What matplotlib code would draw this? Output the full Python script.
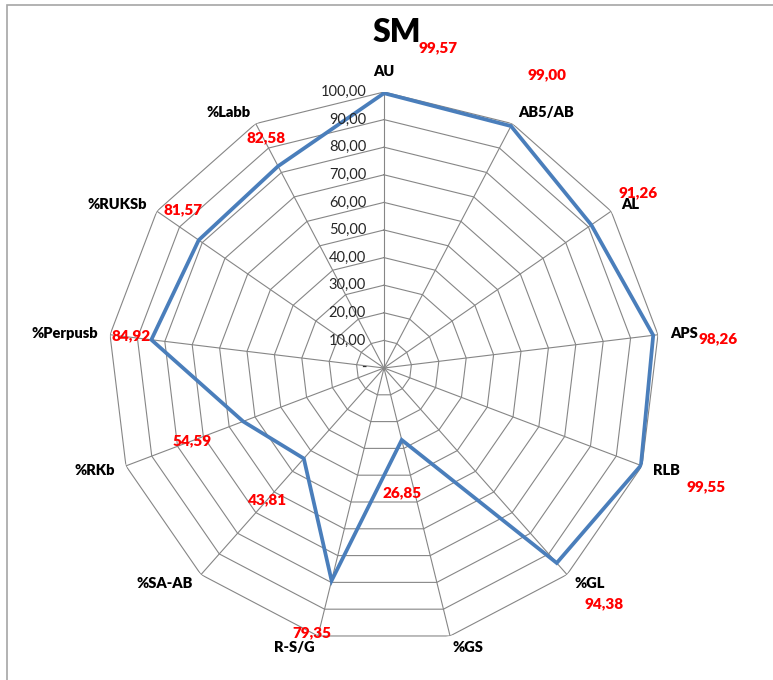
import numpy as np
import matplotlib
matplotlib.use("Agg")
import matplotlib.pyplot as plt
from matplotlib.patches import Rectangle

plt.rcParams['font.family'] = ['Lato', 'DejaVu Sans']

# Indicators and their scores
categories = ['AU', 'AB5/AB', 'AL', 'APS', 'RLB', '%GL', '%GS', 'R-S/G',
              '%SA-AB', '%RKb', '%Perpusb', '%RUKSb', '%Labb']
values = [99.57, 99.00, 91.26, 98.26, 99.55, 94.38, 26.85, 79.35,
          43.81, 54.59, 84.92, 81.57, 82.58]
ring_levels = [10, 20, 30, 40, 50, 60, 70, 80, 90, 100]
title = 'SM'

# Pixel offsets of the value labels from their points
label_offsets = [(54, 45), (36, 51), (47, 32), (65, -3), (65, -21), (47, -41),
                 (0, -53), (-20, -52), (-36, -41), (-51, -19), (-20, 4),
                 (-16, 30), (-12, 28)]


def fmt(v):
    return f'{v:.2f}'.replace('.', ',')


W, H = 773, 680
fig = plt.figure(figsize=(W / 100, H / 100), dpi=100)

# Outer chart frame
fig.patches.append(Rectangle((7 / W, -0.1), 1.2, 1.1 - 5 / H, transform=fig.transFigure,
                             fill=False, edgecolor='#a6a6a6', linewidth=1.2))

cx, cy, R = 384, 368, 276
ax = fig.add_axes([(cx - R) / W, 1 - (cy + R) / H, 2 * R / W, 2 * R / H],
                  projection='polar')
ax.set_theta_zero_location('N')
ax.set_theta_direction(-1)
ax.set_ylim(0, 100)
ax.grid(False)
ax.set_xticks([])
ax.set_yticks([])
ax.spines['polar'].set_visible(False)
ax.patch.set_alpha(0)

n = len(categories)
angles = np.arange(n) * 2 * np.pi / n
closed = np.append(angles, angles[0])

grid_col = '#868686'
for lv in ring_levels:
    ax.plot(closed, [lv] * (n + 1), color=grid_col, lw=0.8, zorder=1)
for a in angles:
    ax.plot([a, a], [0, 100], color=grid_col, lw=0.8, zorder=1)

ax.plot(closed, values + [values[0]], color='#4a7ebb', lw=2.7, zorder=3,
        solid_joinstyle='miter')

# Radial scale labels along the first spoke
for lv in [0] + ring_levels:
    txt = '-' if lv == 0 else fmt(lv)
    ax.annotate(txt, (0, lv), xytext=(-18, 0), textcoords='offset pixels',
                ha='right', va='center', fontsize=10.5, color='#262626',
                annotation_clip=False, zorder=4)

# Category labels
for a, name in zip(angles, categories):
    s, c = np.sin(a), np.cos(a)
    if abs(s) < 1e-6:
        ha = 'center'
    elif s > 0:
        ha = 'left'
    else:
        ha = 'right'
    if name == categories[0]:
        ax.annotate(name, (a, 100), xytext=(0, 14), textcoords='offset pixels',
                    ha='center', va='bottom', fontsize=10.5, fontweight='heavy',
                    annotation_clip=False)
    else:
        ax.annotate(name, (a, 100), xytext=(12 * s, 12 * c), textcoords='offset pixels',
                    ha=ha, va='center', fontsize=10.5, fontweight='heavy',
                    annotation_clip=False)

# Value labels
for a, v, off in zip(angles, values, label_offsets):
    ax.annotate(fmt(v), (a, v), xytext=off, textcoords='offset pixels',
                ha='center', va='center', fontsize=11, fontweight='heavy',
                color='#ff0000', annotation_clip=False, zorder=5)

fig.text(397 / W, 1 - 33 / H, title, ha='center', va='center',
         fontsize=23, fontweight='heavy')

fig.savefig('out.png', dpi=100)
